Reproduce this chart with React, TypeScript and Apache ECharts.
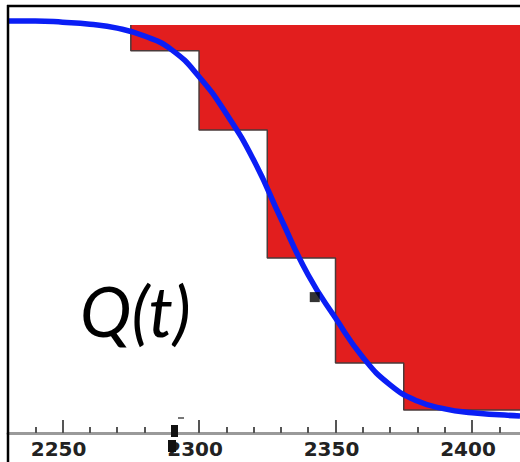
import React, { useEffect, useRef } from "react";
import * as echarts from "echarts";

// Time axis range and ticks
const tMin = 2230;
const tMax = 2417.6;
const majorTicks = [2250, 2300, 2350, 2400];
const minorTicks = [2240, 2260, 2270, 2280, 2290, 2310, 2320, 2330, 2340, 2360, 2370, 2380, 2390, 2410];

// Smooth curve Q(t)
const curveT = [2230, 2240, 2250, 2260, 2270, 2280, 2290, 2300, 2310, 2320, 2330, 2340, 2350, 2360, 2370, 2380, 2390, 2400, 2410, 2417.6];
const curveQ = [1.0, 1.0, 0.997, 0.992, 0.982, 0.962, 0.927, 0.859, 0.765, 0.648, 0.5, 0.357, 0.248, 0.149, 0.079, 0.038, 0.018, 0.008, 0.003, 0.0];

// Discrete (stepped) approximation, filled up to its upper level
const stepTop = 0.99;
const stepT = [2275, 2275, 2300, 2325, 2350, 2375, 2417.6];
const stepQ = [0.99, 0.925, 0.724, 0.4, 0.134, 0.015, 0.015];

// Single marked sample
const markT = [2342.4];
const markQ = [0.301];

export default function App() {
  const ref = useRef<HTMLDivElement>(null);

  useEffect(() => {
    if (!ref.current) return;
    const chart = echarts.init(ref.current, null, { renderer: "svg" });

    const stepData = stepT.map((t, i) => [t, stepQ[i]]);
    const curveData = curveT.map((t, i) => [t, curveQ[i]]);
    const markData = markT.map((t, i) => [t, markQ[i]]);

    chart.setOption({
      animation: false,
      backgroundColor: "#ffffff",
      grid: { left: 8, right: 0, top: 6, bottom: 29, containLabel: false },
      xAxis: [
        {
          type: "value",
          min: tMin,
          max: tMax,
          position: "bottom",
          axisLine: { show: true, onZero: false, lineStyle: { color: "#9a9a9a", width: 3 } },
          axisTick: {
            show: true,
            inside: true,
            length: 6,
            customValues: minorTicks,
            lineStyle: { color: "#555555", width: 2 },
          },
          axisLabel: {
            show: true,
            customValues: majorTicks,
            margin: 6,
            padding: [0, 8, 0, 0],
            color: "#222222",
            fontFamily: "DejaVu Sans",
            fontWeight: "bold",
            fontSize: 20,
            formatter: (v: number) => String(v),
          },
          splitLine: { show: false },
        },
        {
          type: "value",
          min: tMin,
          max: tMax,
          position: "bottom",
          axisLine: { show: false, onZero: false },
          axisTick: {
            show: true,
            inside: true,
            length: 13,
            customValues: majorTicks,
            lineStyle: { color: "#555555", width: 2 },
          },
          axisLabel: { show: false },
          splitLine: { show: false },
        },
      ],
      yAxis: {
        type: "value",
        min: -0.043,
        max: 1.038,
        show: false,
        splitLine: { show: false },
      },
      series: [
        {
          type: "line",
          xAxisIndex: 0,
          data: stepData,
          step: "end",
          symbol: "none",
          lineStyle: { color: "#4a3a3a", width: 1.5 },
          areaStyle: { color: "#e21e1e", opacity: 1, origin: stepTop },
          z: 2,
        },
        {
          type: "line",
          xAxisIndex: 0,
          data: curveData,
          smooth: 0.5,
          symbol: "none",
          lineStyle: { color: "#0a1ef5", width: 5.5 },
          z: 3,
        },
        {
          type: "scatter",
          xAxisIndex: 0,
          data: markData,
          symbol: "rect",
          symbolSize: 10,
          itemStyle: { color: "#000000" },
          z: 4,
        },
      ],
      graphic: [
        {
          type: "line",
          shape: { x1: 8, y1: 5, x2: 8, y2: 462 },
          style: { stroke: "#000000", lineWidth: 2.5 },
          z: 10,
        },
        {
          type: "line",
          shape: { x1: 7, y1: 6, x2: 520, y2: 6 },
          style: { stroke: "#000000", lineWidth: 2.5 },
          z: 10,
        },
        {
          type: "rect",
          shape: { x: 171, y: 425, width: 7, height: 12 },
          style: { fill: "#111111" },
          z: 10,
        },
        {
          type: "rect",
          shape: { x: 168, y: 440, width: 8, height: 12 },
          style: { fill: "#111111" },
          z: 10,
        },
        {
          type: "rect",
          shape: { x: 178, y: 417, width: 6, height: 2 },
          style: { fill: "#777777" },
          z: 10,
        },
        {
          type: "text",
          style: {
            text: "Q(t)",
            x: 80,
            y: 310,
            fill: "#000000",
            font: "italic 69px Lato",
            verticalAlign: "middle",
            textAlign: "left",
          },
          z: 10,
        },
      ],
    });

    return () => chart.dispose();
  }, []);

  return (
    <div
      ref={ref}
      style={{ position: "fixed", left: 0, top: 0, width: 520, height: 462 }}
    />
  );
}
